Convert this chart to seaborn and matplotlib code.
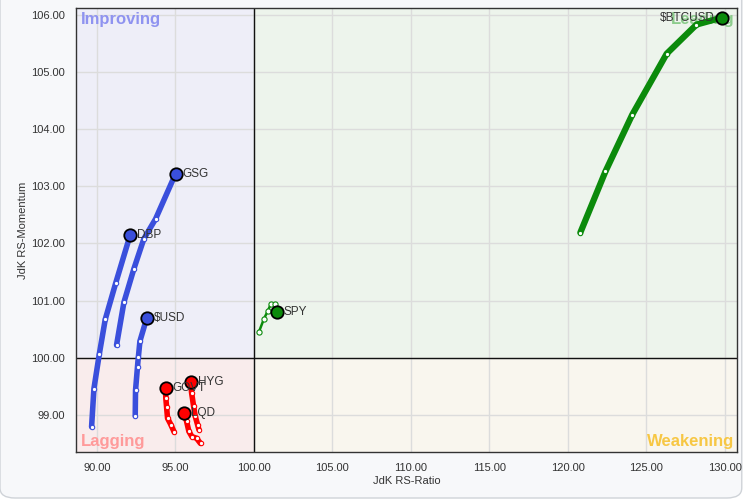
import matplotlib
matplotlib.use("Agg")
import matplotlib.pyplot as plt
from matplotlib.patches import FancyBboxPatch
import seaborn as sns
import pandas as pd

# trails (tail -> head)
btc_x = [120.8, 122.4, 124.1, 126.3, 128.2, 129.8]
btc_y = [102.19, 103.26, 104.25, 105.32, 105.83, 105.95]
spy_x = [100.32, 100.64, 100.89, 101.08, 101.34, 101.46]
spy_y = [100.45, 100.68, 100.82, 100.94, 100.94, 100.80]
gsg_x = [91.25, 91.72, 92.36, 92.99, 93.74, 95.01]
gsg_y = [100.22, 100.97, 101.56, 102.08, 102.43, 103.22]
dbp_x = [89.66, 89.81, 90.15, 90.53, 91.19, 92.12]
dbp_y = [98.79, 99.46, 100.06, 100.67, 101.30, 102.15]
usd_x = [92.44, 92.46, 92.61, 92.61, 92.74, 93.17]
usd_y = [98.98, 99.43, 99.83, 100.02, 100.29, 100.69]
govt_x = [94.92, 94.71, 94.50, 94.44, 94.39, 94.37]
govt_y = [98.70, 98.83, 98.94, 99.13, 99.29, 99.47]
hyg_x = [96.50, 96.41, 96.26, 96.16, 96.03, 95.97]
hyg_y = [98.74, 98.83, 98.98, 99.15, 99.39, 99.57]
lqd_x = [96.60, 96.35, 96.05, 95.86, 95.71, 95.54]
lqd_y = [98.50, 98.59, 98.62, 98.71, 98.89, 99.03]

simbolos = ["$BTCUSD", "SPY", "GSG", "DBP", "$USD", "GOVT", "HYG", "LQD"]
xs = [btc_x, spy_x, gsg_x, dbp_x, usd_x, govt_x, hyg_x, lqd_x]
ys = [btc_y, spy_y, gsg_y, dbp_y, usd_y, govt_y, hyg_y, lqd_y]

x_ticks = [90, 95, 100, 105, 110, 115, 120, 125, 130]
y_ticks = [99, 100, 101, 102, 103, 104, 105, 106]

verde = "#0b8a0b"
azul = "#3a4fdc"
rojo = "#ff0000"
colores = {"$BTCUSD": verde, "SPY": verde, "GSG": azul, "DBP": azul, "$USD": azul,
           "GOVT": rojo, "HYG": rojo, "LQD": rojo}
grosor = {"$BTCUSD": 4.5, "SPY": 1.8}

filas = []
for s, xx, yy in zip(simbolos, xs, ys):
    for i, (a, b) in enumerate(zip(xx, yy)):
        filas.append({"simbolo": s, "orden": i, "ratio": a, "momentum": b})
df = pd.DataFrame(filas)

sns.set_style("white")
plt.rcParams["font.family"] = ["Liberation Sans", "DejaVu Sans"]

fig = plt.figure(figsize=(7.44, 5), dpi=100, facecolor="white")
# marco redondeado del panel
marco = FancyBboxPatch((0.0, 0.004), 0.997, 1.2, boxstyle="round,pad=0,rounding_size=0.02",
                       transform=fig.transFigure, facecolor="#f7f8fa",
                       edgecolor="#cfd3d8", linewidth=1, zorder=-10)
fig.add_artist(marco)
ax = fig.add_axes([0.102, 0.096, 0.889, 0.888])

xmin, xmax, ymin, ymax = 88.66, 130.8, 98.35, 106.12
ax.set_xlim(xmin, xmax)
ax.set_ylim(ymin, ymax)

# cuadrantes
corte = (100 - ymin) / (ymax - ymin)
ax.axvspan(xmin, 100, ymin=corte, ymax=1, color="#eeeef8", zorder=0)
ax.axvspan(100, xmax, ymin=corte, ymax=1, color="#edf4ec", zorder=0)
ax.axvspan(xmin, 100, ymin=0, ymax=corte, color="#f9ecec", zorder=0)
ax.axvspan(100, xmax, ymin=0, ymax=corte, color="#f9f6ee", zorder=0)

ax.set_xticks(x_ticks)
ax.set_yticks(y_ticks)
ax.set_xticklabels([f"{v:.2f}" for v in x_ticks])
ax.set_yticklabels([f"{v:.2f}" for v in y_ticks])
ax.grid(True, color="#dcdcdc", linewidth=1, zorder=1)
ax.set_axisbelow(True)
ax.tick_params(length=0, labelsize=8, colors="#333333", pad=8)
ax.axvline(100, color="#111111", linewidth=1, zorder=2)
ax.axhline(100, color="#111111", linewidth=1, zorder=2)
for sp in ax.spines.values():
    sp.set_color("#333333")
    sp.set_linewidth(1)

ax.text(89.0, 106.05, "Improving", color="#8f93f0", fontsize=12, fontweight="bold", va="top", zorder=3)
ax.text(89.0, 98.4, "Lagging", color="#ff9a9a", fontsize=12, fontweight="bold", va="bottom", zorder=3)
ax.text(130.6, 98.4, "Weakening", color="#f7c744", fontsize=12, fontweight="bold", va="bottom", ha="right", zorder=3)
ax.text(130.6, 106.05, "Leading", color="#8ccc8c", fontsize=12, fontweight="bold", va="top", ha="right", zorder=3)

for s in simbolos:
    d = df[df["simbolo"] == s].sort_values("orden")
    c = colores[s]
    lw = grosor.get(s, 4)
    sns.lineplot(data=d, x="ratio", y="momentum", sort=False, color=c, linewidth=lw,
                 ax=ax, zorder=4, legend=False)
    cola = d.iloc[:-1]
    ax.scatter(cola["ratio"], cola["momentum"], s=10 if s != "SPY" else 14, facecolor="white",
               edgecolor=c, linewidth=0.8, zorder=5)
    cab = d.iloc[-1]
    ax.scatter([cab["ratio"]], [cab["momentum"]], s=80, facecolor=c, edgecolor="black",
               linewidth=1.3, zorder=6)
    if s == "$BTCUSD":
        ax.text(cab["ratio"] - 0.45, cab["momentum"], s, fontsize=8.5, color="#333333",
                va="center", ha="right", zorder=7)
    else:
        ax.text(cab["ratio"] + 0.45, cab["momentum"], s, fontsize=8.5, color="#333333",
                va="center", ha="left", zorder=7)

ax.set_xlabel("JdK RS-Ratio", fontsize=8, color="#333333", labelpad=2)
ax.set_ylabel("JdK RS-Momentum", fontsize=8, color="#333333", labelpad=2)

fig.savefig("out.png", dpi=100, facecolor=fig.get_facecolor())
